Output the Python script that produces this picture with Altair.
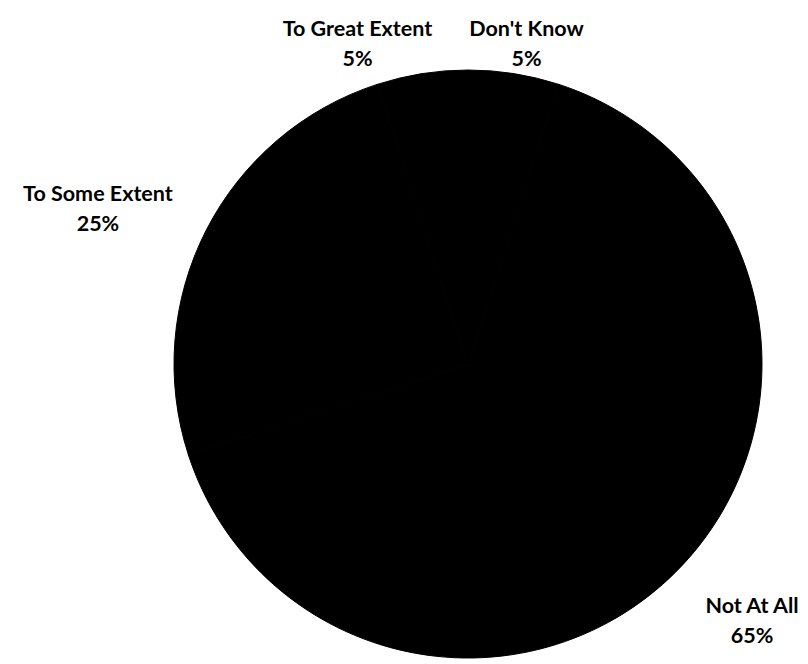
import altair as alt
import pandas as pd

categories = ["Don't Know", "Not At All", "To Some Extent", "To Great Extent"]
values = [5, 65, 25, 5]
order = [1, 2, 3, 4]

df = pd.DataFrame({
    "category": categories,
    "value": values,
    "order": order,
})
df["label"] = [f"{c}\n{v}%" for c, v in zip(categories, values)]

theta_scale = alt.Scale(domain=[0, 100])

pie = alt.Chart().mark_arc(radius=294, color="black", stroke="black", strokeWidth=1).encode(
    theta=alt.Theta("start:Q", scale=theta_scale),
    theta2="end:Q",
)


def label_layer(cat, radius, dx, dy=-15):
    return alt.Chart().transform_filter(
        alt.datum.category == cat
    ).mark_text(
        radius=radius, dx=dx, dy=dy, align="center", baseline="middle",
        font="Lato", fontWeight="bold", fontSize=21.5, lineHeight=30,
        lineBreak="\n", color="black",
    ).encode(
        theta=alt.Theta("mid:Q", scale=theta_scale),
        text="label:N",
    )


chart = alt.layer(
    pie,
    label_layer("Don't Know", 323, 8),
    label_layer("To Great Extent", 323, -60),
    label_layer("To Some Extent", 339, -68),
    label_layer("Not At All", 365, 26),
    data=df,
).transform_window(
    cum="sum(value)", sort=[alt.SortField("order")], frame=[None, 0]
).transform_calculate(
    end="datum.cum",
    start="datum.cum - datum.value",
    mid="datum.cum - datum.value / 2",
).properties(
    width=680,
    height=600,
    padding={"left": 128, "top": 64, "right": 0, "bottom": 0},
    autosize=alt.AutoSizeParams(type="none"),
).configure_view(stroke=None)

chart.save("out.html", embed_options={"renderer": "svg", "actions": False})
